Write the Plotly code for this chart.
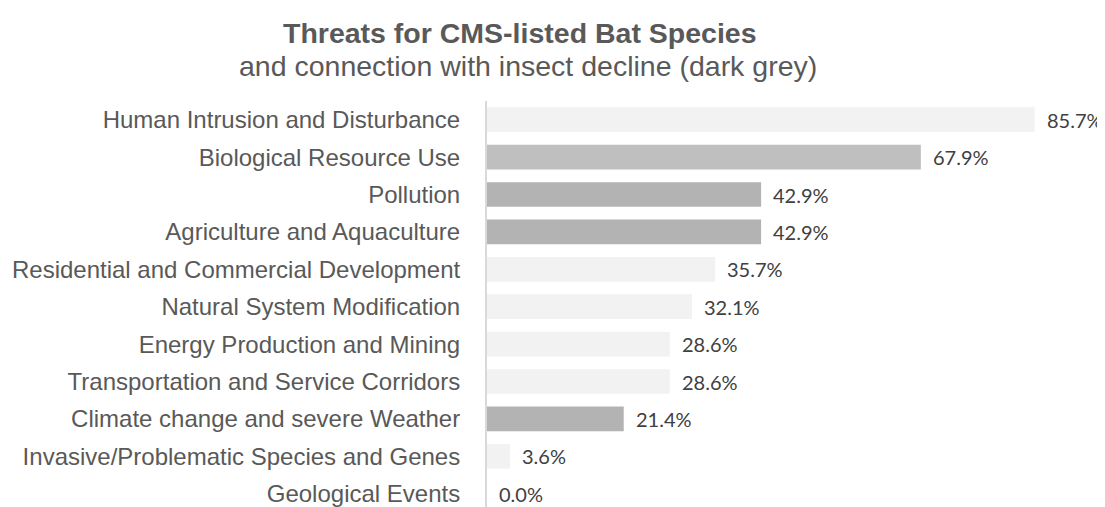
import plotly.graph_objects as go

categories = [
    "Human Intrusion and Disturbance",
    "Biological Resource Use",
    "Pollution",
    "Agriculture and Aquaculture",
    "Residential and Commercial Development",
    "Natural System Modification",
    "Energy Production and Mining",
    "Transportation and Service Corridors",
    "Climate change and severe Weather",
    "Invasive/Problematic Species and Genes",
    "Geological Events",
]
values = [85.7, 67.9, 42.9, 42.9, 35.7, 32.1, 28.6, 28.6, 21.4, 3.6, 0.0]
bar_colors = ["#f2f2f2", "#bfbfbf", "#b3b3b3", "#b3b3b3", "#f2f2f2", "#f2f2f2",
              "#f2f2f2", "#f2f2f2", "#b3b3b3", "#f2f2f2", "#f2f2f2"]

L, R, T, B = 479, 19, 93, 0
W, H = 1105, 507
H_PLOT = H - T - B
W_PLOT = W - L - R
ROW = 37.4

fig = go.Figure()
fig.add_trace(go.Bar(
    x=values, y=categories, orientation="h",
    marker=dict(color=bar_colors, line=dict(width=0)),
    width=0.66, hoverinfo="x+y",
))

for c, v in zip(categories, values):
    fig.add_annotation(
        x=v, y=c, xref="x", yref="y", text=f"{v:.1f}%", showarrow=False,
        xanchor="left", yanchor="middle", xshift=10,
        font=dict(family="Lato, Open Sans, sans-serif", size=20, color="#404040"),
    )

def py(px):
    return 1 + (T - px) / H_PLOT

def pxx(px):
    return (px - L) / W_PLOT

fig.add_annotation(
    text="<b>Threats for CMS-listed Bat Species</b>", xref="paper", yref="paper",
    x=pxx(512), y=py(25), xanchor="center", yanchor="middle", showarrow=False,
    font=dict(family="Liberation Sans, Arial, sans-serif", size=28.5, color="#595959"),
)
fig.add_annotation(
    text="and connection with insect decline (dark grey)", xref="paper", yref="paper",
    x=pxx(520), y=py(58), xanchor="center", yanchor="middle", showarrow=False,
    font=dict(family="Liberation Sans, Arial, sans-serif", size=28.5, color="#595959"),
)

fig.update_layout(
    width=W, height=H,
    margin=dict(l=L, r=R, t=T, b=B, autoexpand=False),
    paper_bgcolor="white", plot_bgcolor="white",
    showlegend=False,
    xaxis=dict(range=[0, 95], visible=False, showgrid=False, zeroline=False),
    yaxis=dict(
        type="category", categoryorder="array", categoryarray=categories,
        range=[H_PLOT / ROW - 0.5, -0.5], showgrid=False, zeroline=False,
        showline=True, linecolor="#d9d9d9", linewidth=2,
        ticks="", ticklabelstandoff=20,
        tickfont=dict(family="Liberation Sans, Arial, sans-serif", size=24, color="#595959"),
    ),
)

fig.write_html("out.html")
